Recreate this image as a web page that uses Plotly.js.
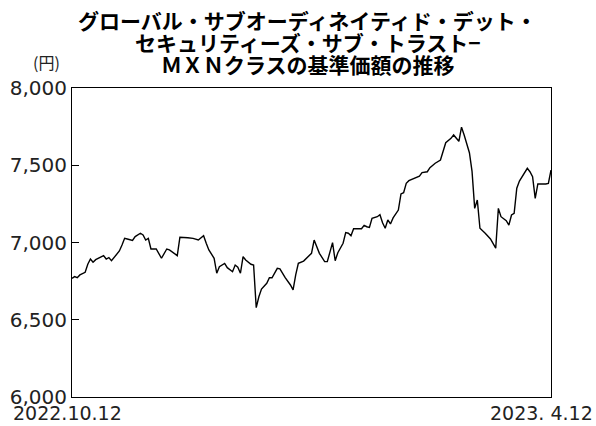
<!DOCTYPE html>
<html><head><meta charset="utf-8">
<script src="https://cdn.plot.ly/plotly-3.0.1.min.js"></script>
<style>html,body{margin:0;padding:0;background:#fff;}#chart{width:596px;height:426px;}</style>
</head><body><div id="chart"></div>
<script>
const dates = ["2022-10-12","2022-10-13","2022-10-14","2022-10-15","2022-10-17","2022-10-18","2022-10-19","2022-10-20","2022-10-21","2022-10-24",
"2022-10-25","2022-10-26","2022-10-27","2022-10-28","2022-10-30","2022-10-31","2022-11-01","2022-11-02","2022-11-04","2022-11-05",
"2022-11-07","2022-11-08","2022-11-09","2022-11-10","2022-11-11","2022-11-13","2022-11-15","2022-11-17","2022-11-18","2022-11-21",
"2022-11-22","2022-11-25","2022-11-27","2022-11-29","2022-12-01","2022-12-02","2022-12-03","2022-12-05","2022-12-06","2022-12-07",
"2022-12-09","2022-12-10","2022-12-12","2022-12-13","2022-12-14","2022-12-15","2022-12-16","2022-12-17","2022-12-19","2022-12-20",
"2022-12-21","2022-12-22","2022-12-23","2022-12-25","2022-12-26","2022-12-27","2022-12-29","2022-12-30","2023-01-01","2023-01-03",
"2023-01-04","2023-01-05","2023-01-06","2023-01-08","2023-01-10","2023-01-11","2023-01-12","2023-01-13","2023-01-14","2023-01-16",
"2023-01-17","2023-01-19","2023-01-20","2023-01-21","2023-01-23","2023-01-24","2023-01-25","2023-01-26","2023-01-27","2023-01-30",
"2023-01-31","2023-02-01","2023-02-02","2023-02-03","2023-02-05","2023-02-06","2023-02-07","2023-02-08","2023-02-09","2023-02-10",
"2023-02-11","2023-02-13","2023-02-14","2023-02-15","2023-02-16","2023-02-17","2023-02-19","2023-02-20","2023-02-21","2023-02-22",
"2023-02-24","2023-02-25","2023-02-27","2023-03-01","2023-03-02","2023-03-03","2023-03-05","2023-03-06","2023-03-08","2023-03-09",
"2023-03-10","2023-03-12","2023-03-13","2023-03-14","2023-03-15","2023-03-16","2023-03-18","2023-03-20","2023-03-22","2023-03-23",
"2023-03-24","2023-03-26","2023-03-27","2023-03-28","2023-03-29","2023-03-30","2023-03-31","2023-04-02","2023-04-03","2023-04-04",
"2023-04-05","2023-04-06","2023-04-07","2023-04-10","2023-04-11","2023-04-12"];
const nav = [6768,6779,6772,6790,6807,6859,6893,6872,6889,6915,
6893,6902,6882,6904,6945,6984,7027,7023,7014,7038,
7060,7049,7016,7027,6958,6958,6898,6958,6952,6915,
7034,7031,7027,7016,7044,6995,6952,6898,6801,6843,
6865,6837,6811,6854,6840,6801,6908,6887,6859,6854,
6578,6649,6699,6736,6772,6772,6833,6829,6772,6725,
6693,6790,6865,6880,6915,6930,7016,6969,6930,6876,
6876,6999,6882,6934,6995,7064,7060,7044,7089,7089,
7111,7102,7098,7157,7167,7180,7128,7092,7146,7120,
7159,7210,7314,7322,7383,7400,7416,7426,7430,7452,
7458,7484,7513,7534,7588,7646,7674,7696,7655,7746,
7696,7581,7460,7221,7275,7092,7060,7023,6963,7221,
7167,7141,7113,7178,7189,7351,7398,7448,7480,7458,
7426,7286,7379,7379,7383,7469];
const yTicks = [6000,6500,7000,7500,8000];
const yTickText = ["6,000","6,500","7,000","7,500","8,000"];
const xRange = ["2022-10-12","2023-04-12"];
const xLabels = ["2022.10.12","2023. 4.12"];
const unitLabel = "(円)";
const titleLines = ["グローバル・サブオーディネイティド・デット・",
                    "セキュリティーズ・サブ・トラスト−",
                    "ＭＸＮクラスの基準価額の推移"];

const JP = "'Noto Sans CJK JP', 'Noto Sans', sans-serif";
const NUM = "'DejaVu Sans', sans-serif";
const titleShifts = [68, 46, 24];
const annotations = titleLines.map((t, i) => ({
  text: '<b>' + t + '</b>', xref: 'paper', yref: 'paper', x: 0.5, y: 1, xanchor: 'center', yanchor: 'middle',
  xshift: -4, yshift: titleShifts[i], showarrow: false, font: {family: JP, size: 21, color: '#000'}
}));
annotations.push(
  {text: xLabels[0], xref: 'paper', yref: 'paper', x: 0, y: 0, xanchor: 'center', yanchor: 'middle', yshift: -16, xshift: -5,
   showarrow: false, font: {family: NUM, size: 19, color: '#222'}},
  {text: xLabels[1], xref: 'paper', yref: 'paper', x: 1, y: 0, xanchor: 'center', yanchor: 'middle', yshift: -16, xshift: -10,
   showarrow: false, font: {family: NUM, size: 19, color: '#222'}},
  {text: unitLabel, xref: 'paper', yref: 'paper', x: 0, y: 1, xanchor: 'center', yanchor: 'middle', xshift: -26, yshift: 26,
   showarrow: false, font: {family: JP, size: 16, color: '#222'}}
);
Plotly.newPlot('chart', [{
  x: dates, y: nav, type: 'scatter', mode: 'lines',
  line: {color: '#000', width: 1.4}, hoverinfo: 'skip'
}], {
  width: 596, height: 426,
  margin: {l: 72, r: 45, t: 88, b: 29},
  paper_bgcolor: '#fff', plot_bgcolor: '#fff',
  showlegend: false,
  font: {family: JP, color: '#000'},
  xaxis: {type: 'date', range: xRange, showticklabels: false, ticks: '', showgrid: false,
          zeroline: false, showline: true, linecolor: '#000', linewidth: 1, mirror: true},
  yaxis: {range: [6000, 8000], tickvals: yTicks, ticktext: yTickText, ticks: 'inside', ticklen: 7,
          tickcolor: '#000', showgrid: false, zeroline: false, showline: true, linecolor: '#000',
          linewidth: 1, mirror: true, tickfont: {family: NUM, size: 20, color: '#222'}},
  annotations: annotations
}, {displayModeBar: false, staticPlot: true});
</script></body></html>
